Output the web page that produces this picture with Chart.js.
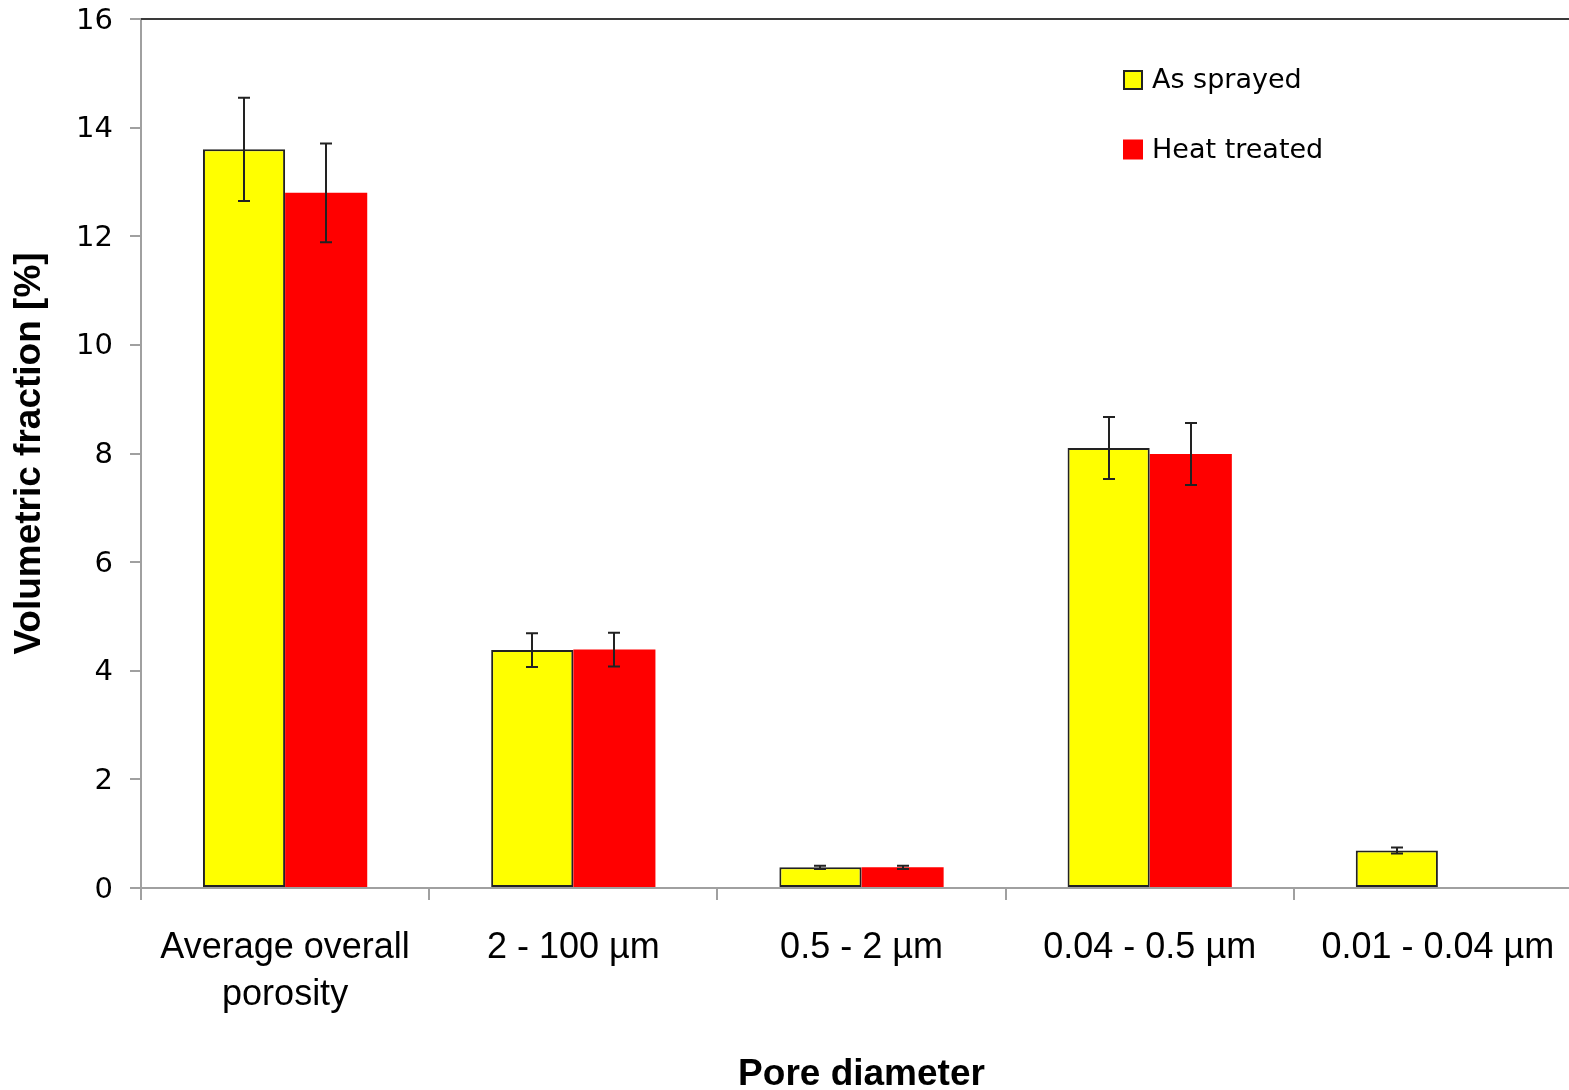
<!DOCTYPE html>
<html>
<head>
<meta charset="utf-8">
<script src="https://cdn.jsdelivr.net/npm/chart.js@4"></script>
<style>
  html, body { margin: 0; padding: 0; background: #fff; overflow: hidden; }
  #wrap { position: relative; width: 1582px; height: 1090px; }
</style>
</head>
<body>
<div id="wrap"><canvas id="c"></canvas></div>
<script>
// Pore size classes (x categories)
const categories = [['Average overall', 'porosity'], '2 - 100 µm', '0.5 - 2 µm', '0.04 - 0.5 µm', '0.01 - 0.04 µm'];

// Volumetric fraction [%] and standard deviations
const asSprayed      = [13.6, 4.38, 0.38, 8.10, 0.69];
const asSprayedErr   = [0.95, 0.31, 0.03, 0.57, 0.055];
const heatTreated    = [12.8, 4.39, 0.38, 7.99, null];
const heatTreatedErr = [0.91, 0.31, 0.03, 0.57, null];

// Value axis range
const yMin = 0, yMax = 16, yStep = 2;

const seriesLabels = ['As sprayed', 'Heat treated'];

const SANS = "'Liberation Sans', Arial, sans-serif";
const TAHOMA_LIKE = "'DejaVu Sans', Verdana, sans-serif";

// Error bars drawn on top of each bar from the dataset's `errors` list
const errorBars = {
  id: 'errorBars',
  afterDatasetsDraw(chart) {
    const ctx = chart.ctx;
    const y = chart.scales.y;
    chart.data.datasets.forEach((ds, i) => {
      if (!ds.errors) return;
      const meta = chart.getDatasetMeta(i);
      meta.data.forEach((bar, j) => {
        const v = ds.data[j], e = ds.errors[j];
        if (v == null || e == null) return;
        const top = y.getPixelForValue(v + e);
        const bot = y.getPixelForValue(v - e);
        const x = Math.round(bar.x);
        ctx.save();
        ctx.strokeStyle = '#222';
        ctx.lineWidth = 2;
        ctx.beginPath();
        ctx.moveTo(x, top); ctx.lineTo(x, bot);
        ctx.moveTo(x - 6, top); ctx.lineTo(x + 6, top);
        ctx.moveTo(x - 6, bot); ctx.lineTo(x + 6, bot);
        ctx.stroke();
        ctx.restore();
      });
    });
  }
};

// Dark frame line along the top of the plot area
const topFrame = {
  id: 'topFrame',
  afterDraw(chart) {
    const { ctx, chartArea } = chart;
    ctx.save();
    ctx.strokeStyle = '#3a3a3a';
    ctx.lineWidth = 2;
    ctx.beginPath();
    ctx.moveTo(chartArea.left, chartArea.top);
    ctx.lineTo(chartArea.right, chartArea.top);
    ctx.stroke();
    ctx.restore();
  }
};

// Legend box inside the plot area, upper right
const insideLegend = {
  id: 'insideLegend',
  afterDraw(chart) {
    const ctx = chart.ctx;
    const x0 = 1123, rows = [80, 149.5];
    ctx.save();
    chart.data.datasets.forEach((ds, i) => {
      const cy = rows[i];
      ctx.fillStyle = ds.backgroundColor;
      ctx.fillRect(x0, cy - 10, 20, 20);
      if (ds.borderWidth) {
        ctx.strokeStyle = '#222';
        ctx.lineWidth = 2;
        ctx.strokeRect(x0 + 1, cy - 9, 18, 18);
      }
      ctx.fillStyle = '#000';
      ctx.font = "27px " + TAHOMA_LIKE;
      ctx.textBaseline = 'middle';
      ctx.textAlign = 'left';
      ctx.fillText(ds.label, x0 + 29, cy + 1);
    });
    ctx.restore();
  }
};

new Chart(document.getElementById('c'), {
  type: 'bar',
  data: {
    labels: categories,
    datasets: [
      {
        label: seriesLabels[0],
        data: asSprayed,
        errors: asSprayedErr,
        backgroundColor: '#ffff00',
        borderColor: '#222',
        borderWidth: 2,
        borderSkipped: false,
        categoryPercentage: 0.57,
        barPercentage: 1.0
      },
      {
        label: seriesLabels[1],
        data: heatTreated,
        errors: heatTreatedErr,
        backgroundColor: '#ff0000',
        borderWidth: 0,
        categoryPercentage: 0.57,
        barPercentage: 1.0
      }
    ]
  },
  options: {
    responsive: true,
    maintainAspectRatio: false,
    animation: false,
    layout: { padding: { top: 19, right: 0, bottom: 0, left: 0 } },
    plugins: {
      legend: { display: false },
      tooltip: { enabled: false }
    },
    scales: {
      x: {
        offset: true,
        grid: {
          offset: true,
          drawOnChartArea: false,
          drawTicks: true,
          tickLength: 12,
          color: '#a0a0a0',
          lineWidth: 2
        },
        border: { color: '#a0a0a0', width: 2 },
        ticks: {
          color: '#000',
          padding: 25,
          maxRotation: 0,
          autoSkip: false,
          font: { family: SANS, size: 36, lineHeight: 1.3 }
        },
        title: {
          display: true,
          text: 'Pore diameter',
          color: '#000',
          padding: { top: 0, bottom: 0 },
          font: { family: SANS, size: 37, weight: 'bold', lineHeight: 0.8 }
        },
        afterFit(scale) {
          scale.height = 202;
          scale.paddingLeft = 0;
          scale.paddingRight = 0;
        }
      },
      y: {
        min: yMin,
        max: yMax,
        ticks: {
          stepSize: yStep,
          color: '#000',
          padding: 17,
          labelOffset: 2,
          font: { family: TAHOMA_LIKE, size: 29 }
        },
        grid: {
          drawOnChartArea: false,
          drawTicks: true,
          tickLength: 11,
          color: '#a0a0a0',
          lineWidth: 2
        },
        border: { color: '#a0a0a0', width: 2 },
        title: {
          display: true,
          text: 'Volumetric fraction [%]',
          color: '#000',
          padding: { top: 8, bottom: 0 },
          font: { family: SANS, size: 37, weight: 'bold', lineHeight: 1.2 }
        },
        afterFit(scale) {
          scale.width = 141;
          scale.paddingTop = 0;
          scale.paddingBottom = 0;
        }
      }
    }
  },
  plugins: [errorBars, topFrame, insideLegend]
});
</script>
</body>
</html>
